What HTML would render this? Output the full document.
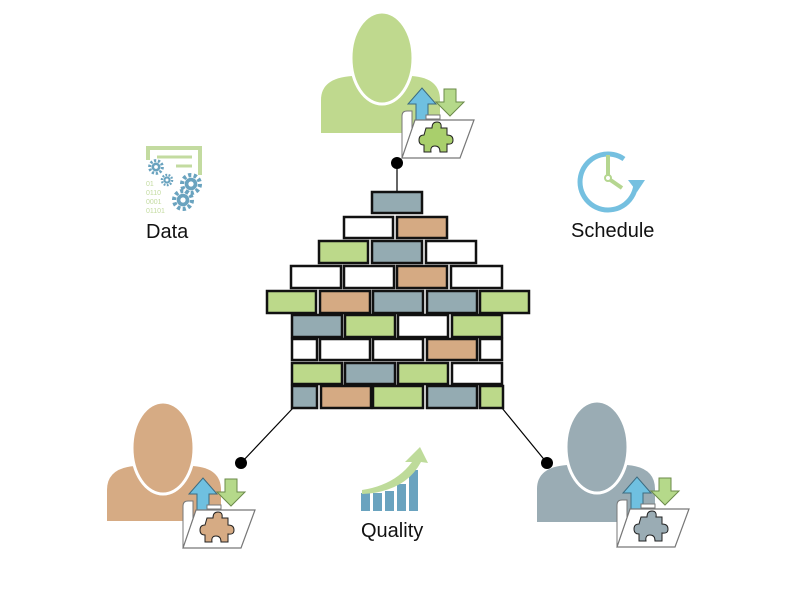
<!DOCTYPE html>
<html><head><meta charset="utf-8"><style>
html,body{margin:0;padding:0;background:#fff;width:800px;height:600px;overflow:hidden}
svg{display:block}
text{font-family:"Liberation Sans",sans-serif;fill:#111}
</style></head><body>
<svg width="800" height="600" viewBox="0 0 800 600" xmlns="http://www.w3.org/2000/svg">
<defs>
<g id="folder">
  <path d="M34,62 L34,46 L26,46 L40,30 L54,46 L46,46 L46,62 Z" fill="#6fc0e0" stroke="#3c6b80" stroke-width="1"/>
  <path d="M62,31 L74,31 L74,44 L82,44 L68,58 L54,44 L62,44 Z" fill="#b5d98a" stroke="#6b8a4a" stroke-width="1"/>
  <path d="M20,100 L20,58 Q20,53 25,53 L30,53 L30,100 Z" fill="#fff" stroke="#777" stroke-width="1"/>
  <rect x="44" y="57" width="14" height="4" fill="#fff" stroke="#777" stroke-width="1"/>
  <path d="M20,100 L33,62 L92,62 L78,100 Z" fill="#fff" stroke="#777" stroke-width="1.2"/>
</g>
<g id="puzzle">
  <path d="M-10,-12 L-4,-12 Q-4,-18 1,-18 Q6,-18 5,-12 L11,-12 L11,-5 Q17,-5 17,0 Q17,5 11,4 L11,12 L4,12 Q4,6 -1,6 Q-6,6 -5,12 L-12,12 L-12,5 Q-17,5 -17,0 Q-17,-5 -12,-5 Z" stroke="#222" stroke-width="1"/>
</g>
<g id="gear">
  <circle r="6" fill="#6aa3bf"/>
  <circle r="8.5" fill="none" stroke="#6aa3bf" stroke-width="4" stroke-dasharray="3 2.3"/>
  <circle r="2.5" fill="#fff"/>
</g>
</defs>

<g stroke="#000" stroke-width="1.2">
<line x1="397" y1="163" x2="397" y2="192"/>
<line x1="241" y1="463" x2="293" y2="408"/>
<line x1="547" y1="463" x2="502" y2="408"/>
</g>

<g stroke="#111" stroke-width="2.5">
<rect x="372" y="192" width="50" height="21" fill="#94abb2"/>
<rect x="344" y="217" width="49" height="21" fill="#fff"/>
<rect x="397" y="217" width="50" height="21" fill="#d5aa83"/>
<rect x="319" y="241" width="49" height="22" fill="#bcd98a"/>
<rect x="372" y="241" width="50" height="22" fill="#94abb2"/>
<rect x="426" y="241" width="50" height="22" fill="#fff"/>
<rect x="291" y="266" width="50" height="22" fill="#fff"/>
<rect x="344" y="266" width="50" height="22" fill="#fff"/>
<rect x="397" y="266" width="50" height="22" fill="#d5aa83"/>
<rect x="451" y="266" width="51" height="22" fill="#fff"/>
<rect x="267" y="291" width="49" height="22" fill="#bcd98a"/>
<rect x="320" y="291" width="50" height="22" fill="#d5aa83"/>
<rect x="373" y="291" width="50" height="22" fill="#94abb2"/>
<rect x="427" y="291" width="50" height="22" fill="#94abb2"/>
<rect x="480" y="291" width="49" height="22" fill="#bcd98a"/>
<rect x="292" y="315" width="50" height="22" fill="#94abb2"/>
<rect x="345" y="315" width="50" height="22" fill="#bcd98a"/>
<rect x="398" y="315" width="50" height="22" fill="#fff"/>
<rect x="452" y="315" width="50" height="22" fill="#bcd98a"/>
<rect x="292" y="339" width="25" height="21" fill="#fff"/>
<rect x="320" y="339" width="50" height="21" fill="#fff"/>
<rect x="373" y="339" width="50" height="21" fill="#fff"/>
<rect x="427" y="339" width="50" height="21" fill="#d5aa83"/>
<rect x="480" y="339" width="22" height="21" fill="#fff"/>
<rect x="292" y="363" width="50" height="21" fill="#bcd98a"/>
<rect x="345" y="363" width="50" height="21" fill="#94abb2"/>
<rect x="398" y="363" width="50" height="21" fill="#bcd98a"/>
<rect x="452" y="363" width="50" height="21" fill="#fff"/>
<rect x="292" y="386" width="25" height="22" fill="#94abb2"/>
<rect x="321" y="386" width="50" height="22" fill="#d5aa83"/>
<rect x="373" y="386" width="50" height="22" fill="#bcd98a"/>
<rect x="427" y="386" width="50" height="22" fill="#94abb2"/>
<rect x="480" y="386" width="23" height="22" fill="#bcd98a"/>
</g>

<g transform="translate(382,58)">
  <path d="M-61,75 L-61,42 Q-61,20 -30,18 L30,18 Q58,20 58,42 L58,75 Z" fill="#bfd98e"/>
  <ellipse cx="0" cy="0" rx="31" ry="46" fill="#bfd98e" stroke="#fff" stroke-width="3"/>
  <use href="#folder"/>
  <use href="#puzzle" transform="translate(54,82)" fill="#a9cf6c"/>
</g>
<g transform="translate(163,448)">
  <path d="M-56,73 L-56,42 Q-56,20 -28,18 L30,18 Q58,20 58,42 L58,73 Z" fill="#d6ab84"/>
  <ellipse cx="0" cy="0" rx="31" ry="46" fill="#d6ab84" stroke="#fff" stroke-width="3"/>
  <use href="#folder"/>
  <use href="#puzzle" transform="translate(54,82)" fill="#d6ab84"/>
</g>
<g transform="translate(597,447)">
  <path d="M-60,75 L-60,42 Q-60,20 -30,18 L30,18 Q58,20 58,42 L58,75 Z" fill="#9aacb4"/>
  <ellipse cx="0" cy="0" rx="31" ry="46" fill="#9aacb4" stroke="#fff" stroke-width="3"/>
  <use href="#folder"/>
  <use href="#puzzle" transform="translate(54,82)" fill="#9aacb4"/>
</g>

<circle cx="397" cy="163" r="6" fill="#000"/>
<circle cx="241" cy="463" r="6" fill="#000"/>
<circle cx="547" cy="463" r="6" fill="#000"/>

<g>
  <path d="M148,160 L148,148 L200,148 L200,175" fill="none" stroke="#c3dba0" stroke-width="4"/>
  <line x1="157" y1="157" x2="192" y2="157" stroke="#c3dba0" stroke-width="3"/>
  <line x1="176" y1="166" x2="192" y2="166" stroke="#c3dba0" stroke-width="3"/>
  <text x="146" y="186" font-size="7" style="fill:#c3dba0">01</text>
  <text x="146" y="195" font-size="7" style="fill:#c3dba0">0110</text>
  <text x="146" y="204" font-size="7" style="fill:#c3dba0">0001</text>
  <text x="146" y="213" font-size="7" style="fill:#c3dba0">01101</text>
  <use href="#gear" transform="translate(156,167) scale(0.75)"/>
  <use href="#gear" transform="translate(167,180) scale(0.6)"/>
  <use href="#gear" transform="translate(191,184) scale(1.05)"/>
  <use href="#gear" transform="translate(183,200) scale(1.05)"/>
</g>
<text x="146" y="238" font-size="20">Data</text>

<g>
  <path d="M636,183 A28,28 0 1 1 624,159" fill="none" stroke="#75c0e0" stroke-width="5"/>
  <path d="M628,180 L645,180 L637,192 Z" fill="#75c0e0"/>
  <line x1="608" y1="155" x2="608" y2="178" stroke="#b5d690" stroke-width="4"/>
  <line x1="609" y1="179" x2="622" y2="188" stroke="#b5d690" stroke-width="4"/>
  <circle cx="608" cy="178" r="3" fill="#fff" stroke="#b5d690" stroke-width="2"/>
</g>
<text x="571" y="237" font-size="20">Schedule</text>

<g fill="#6aa3bf">
  <rect x="361" y="493" width="9" height="18"/>
  <rect x="373" y="493" width="9" height="18"/>
  <rect x="385" y="491" width="9" height="20"/>
  <rect x="397" y="484" width="9" height="27"/>
  <rect x="409" y="470" width="9" height="41"/>
</g>
<path d="M362,490 Q395,485 412,462 L405,462 L420,447 L428,463 L421,462 Q405,492 362,494 Z" fill="#bedb9a"/>
<text x="361" y="537" font-size="20">Quality</text>
</svg>
</body></html>
